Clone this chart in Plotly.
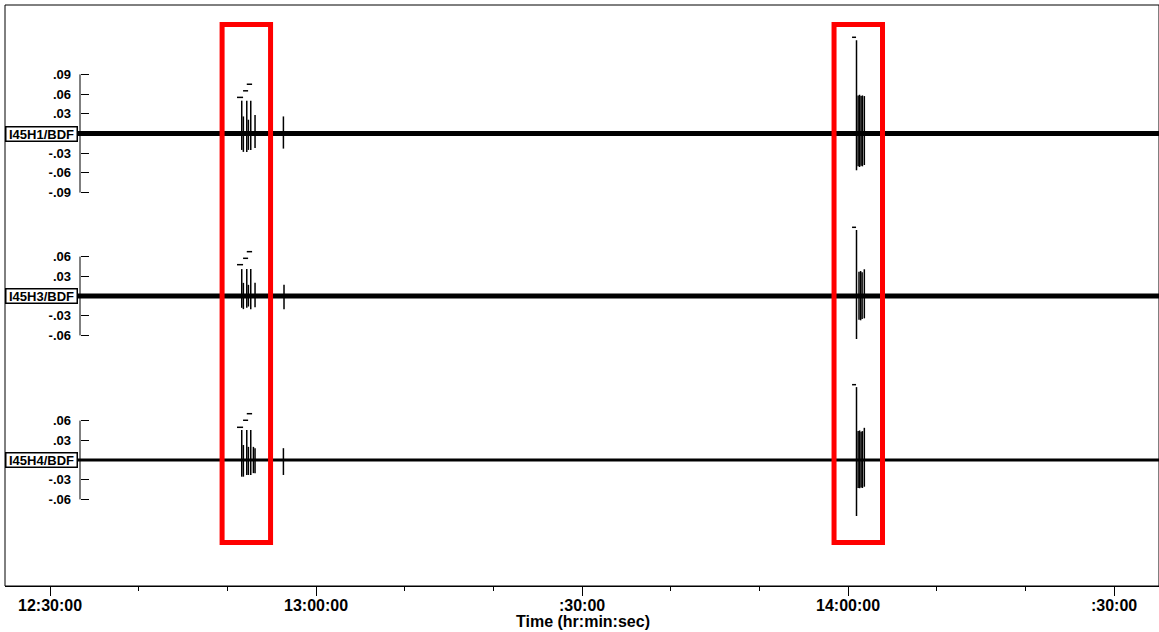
import plotly.graph_objects as go

DAY = "2000-01-01 "

# ---------------- data ----------------
channels = ["I45H1/BDF", "I45H3/BDF", "I45H4/BDF"]
trace_start = "12:24:55"
trace_end = "14:35:04"

# H1
h1_spike_t = ["12:51:37", "12:51:48", "12:52:11", "12:52:22", "12:52:38", "12:53:07", "12:56:19",
              "14:00:57", "14:01:08", "14:01:18", "14:01:28", "14:01:37", "14:01:50"]
h1_spike_hi = [0.050, 0.026, 0.050, 0.021, 0.050, 0.028, 0.026,
               0.142, 0.058, 0.059, 0.057, 0.058, 0.057]
h1_spike_lo = [-0.025, -0.028, -0.028, -0.025, -0.025, -0.022, -0.023,
               -0.056, -0.050, -0.051, -0.049, -0.050, -0.048]
h1_dash_t0 = ["12:51:05", "12:51:46", "12:52:11", "14:00:27"]
h1_dash_t1 = ["12:51:46", "12:52:20", "12:52:47", "14:00:54"]
h1_dash_v = [0.055, 0.065, 0.075, 0.1465]

# H3
h3_spike_t = ["12:51:37", "12:51:48", "12:52:11", "12:52:22", "12:52:38", "12:53:07", "12:56:23",
              "14:00:57", "14:01:14", "14:01:25", "14:01:35", "14:01:50"]
h3_spike_hi = [0.041, 0.020, 0.041, 0.017, 0.041, 0.020, 0.017,
               0.1005, 0.037, 0.038, 0.036, 0.0407]
h3_spike_lo = [-0.018, -0.020, -0.018, -0.016, -0.020, -0.017, -0.020,
               -0.0655, -0.036, -0.037, -0.035, -0.034]
h3_dash_t0 = ["12:51:05", "12:51:46", "12:52:11", "14:00:27"]
h3_dash_t1 = ["12:51:46", "12:52:20", "12:52:47", "14:00:54"]
h3_dash_v = [0.0477, 0.0574, 0.0675, 0.1046]

# H4
h4_spike_t = ["12:51:37", "12:51:48", "12:52:11", "12:52:22", "12:52:38", "12:52:56", "12:53:07", "12:56:19",
              "14:00:57", "14:01:08", "14:01:18", "14:01:28", "14:01:37", "14:01:50"]
h4_spike_hi = [0.0457, 0.0228, 0.0457, 0.020, 0.0457, 0.020, 0.018, 0.018,
               0.111, 0.044, 0.045, 0.043, 0.044, 0.049]
h4_spike_lo = [-0.0254, -0.0254, -0.0228, -0.0228, -0.0228, -0.020, -0.020, -0.0228,
               -0.0853, -0.0426, -0.043, -0.042, -0.0426, -0.0407]
h4_dash_t0 = ["12:51:05", "12:51:46", "12:52:11", "14:00:27"]
h4_dash_t1 = ["12:51:46", "12:52:20", "12:52:47", "14:00:54"]
h4_dash_v = [0.0498, 0.0605, 0.0705, 0.1147]

# y ticks
h1_ticks = [-0.09, -0.06, -0.03, 0.03, 0.06, 0.09]
h1_ticktext = ["-.09", "-.06", "-.03", ".03", ".06", ".09"]
h34_ticks = [-0.06, -0.03, 0.03, 0.06]
h34_ticktext = ["-.06", "-.03", ".03", ".06"]

# x ticks
x_ticks = ["12:30:00", "13:00:00", "13:30:00", "14:00:00", "14:30:00"]
x_ticktext = ["12:30:00", "13:00:00", ":30:00", "14:00:00", ":30:00"]

# highlighted windows
box_t0 = ["12:49:24", "13:58:25"]
box_t1 = ["12:54:52", "14:03:53"]

# ---------------- styling / layout ----------------
W, H = 1159, 632
ML, MR, MT, MB = 5, 0, 5, 46
PW, PH = W - ML - MR, H - MT - MB
PX_PER_UNIT = 656.7  # vertical scale shared by all channels
baseline_px = [128.5, 291.0, 455.0]  # baseline distance from top of plot area
band_w = [5, 5, 3]
FONT = "Liberation Sans"


def t(s):
    return DAY + s


fig = go.Figure()

chan_data = [
    (h1_spike_t, h1_spike_hi, h1_spike_lo, h1_dash_t0, h1_dash_t1, h1_dash_v, h1_ticks, h1_ticktext),
    (h3_spike_t, h3_spike_hi, h3_spike_lo, h3_dash_t0, h3_dash_t1, h3_dash_v, h34_ticks, h34_ticktext),
    (h4_spike_t, h4_spike_hi, h4_spike_lo, h4_dash_t0, h4_dash_t1, h4_dash_v, h34_ticks, h34_ticktext),
]

axis_pos = (80 - ML) / PW
shapes = []
annotations = []

for i, (st, shi, slo, d0, d1, dv, tv, tt) in enumerate(chan_data):
    yname = "y" if i == 0 else f"y{i+1}"
    # baseline noise band
    fig.add_trace(go.Scatter(x=[t(trace_start), t(trace_end)], y=[0, 0], mode="lines",
                             line=dict(color="black", width=band_w[i]), yaxis=yname,
                             showlegend=False, hoverinfo="skip"))
    # spikes
    xs, ys = [], []
    for tm, hi, lo in zip(st, shi, slo):
        xs += [t(tm), t(tm), None]
        ys += [lo, hi, None]
    fig.add_trace(go.Scatter(x=xs, y=ys, mode="lines", line=dict(color="black", width=1.5),
                             yaxis=yname, showlegend=False, hoverinfo="skip"))
    # clip markers (short dashes)
    xs, ys = [], []
    for a, b, v in zip(d0, d1, dv):
        xs += [t(a), t(b), None]
        ys += [v, v, None]
    fig.add_trace(go.Scatter(x=xs, y=ys, mode="lines", line=dict(color="black", width=1.5),
                             yaxis=yname, showlegend=False, hoverinfo="skip"))

    top = baseline_px[i] / PX_PER_UNIT
    bot = -(PH - baseline_px[i]) / PX_PER_UNIT
    ax = dict(range=[bot, top], domain=[0, 1], anchor="free", position=axis_pos,
              tickvals=tv, ticktext=tt, ticks="inside", ticklen=8, tickcolor="black",
              tickwidth=1, showgrid=False, zeroline=False, showline=False,
              ticklabelstandoff=9,
              tickfont=dict(family=FONT, size=13, color="black", weight="bold"))
    if i > 0:
        ax["overlaying"] = "y"
    fig.update_layout(**{("yaxis" if i == 0 else f"yaxis{i+1}"): ax})

    # bracket line
    shapes.append(dict(type="line", xref="paper", yref=yname, x0=axis_pos, x1=axis_pos,
                       y0=min(tv), y1=max(tv), line=dict(color="black", width=1)))
    # channel label
    annotations.append(dict(text=channels[i], xref="paper", yref=yname, x=0, y=0,
                            xanchor="left", yanchor="middle", showarrow=False,
                            font=dict(family=FONT, size=13, color="black", weight="bold"),
                            bordercolor="black", borderwidth=1.5, borderpad=0,
                            bgcolor="white", width=70, height=13))

# red highlight boxes (vertical extent in paper units of the plot area)
box_y0 = (PH + MT - 542.5) / PH
box_y1 = (PH + MT - 24.5) / PH
for a, b in zip(box_t0, box_t1):
    shapes.append(dict(type="rect", xref="x", yref="paper", x0=t(a), x1=t(b),
                       y0=box_y0, y1=box_y1,
                       line=dict(color="#ff0000", width=5), fillcolor="rgba(0,0,0,0)"))

# frame
shapes.append(dict(type="rect", xref="paper", yref="paper", x0=0, x1=1, y0=0, y1=1,
                   line=dict(color="black", width=1), layer="above"))

annotations.append(dict(text="Time (hr:min:sec)", xref="paper", yref="paper",
                        x=(583 - ML) / PW, y=(MT + PH - 621) / PH,
                        xanchor="center", yanchor="middle", showarrow=False,
                        font=dict(family=FONT, size=16, color="black", weight="bold")))

fig.update_layout(
    width=W, height=H,
    margin=dict(l=ML, r=MR, t=MT, b=MB),
    paper_bgcolor="white", plot_bgcolor="white",
    showlegend=False,
    shapes=shapes, annotations=annotations,
    xaxis=dict(type="date", range=[t(trace_start), t(trace_end)],
               tickvals=[t(v) for v in x_ticks], ticktext=x_ticktext,
               ticks="outside", ticklen=9, tickcolor="black", tickwidth=1,
               showline=True, linecolor="black", showgrid=False, zeroline=False,
               ticklabelstandoff=-4,
               tickfont=dict(family=FONT, size=16, color="black", weight="bold"),
               minor=dict(dtick=600000, tick0=t("12:30:00"), ticks="outside", ticklen=4,
                          tickcolor="black", showgrid=False)),
)

fig.write_html("out.html", config={"displayModeBar": False},
               post_script="document.body.style.margin='0';document.body.style.padding='0';")
